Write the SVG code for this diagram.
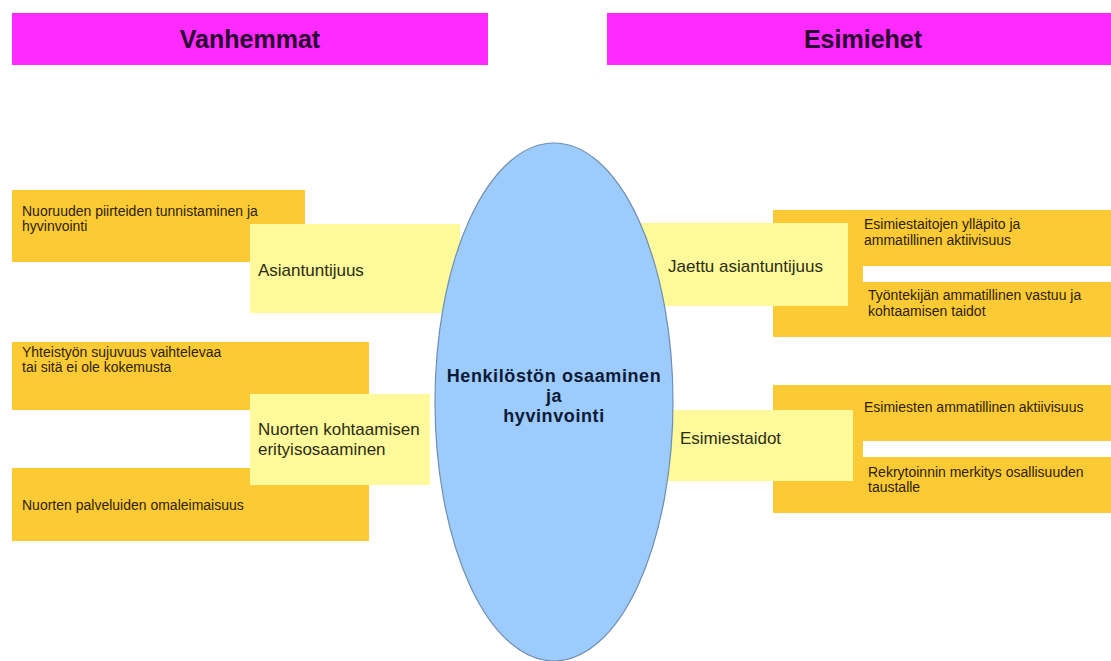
<svg xmlns="http://www.w3.org/2000/svg" width="1111" height="661" viewBox="0 0 1111 661">
  <style>
    .hdr { fill: #ff2aff; }
    .hdr-t { font-family: "Liberation Sans", Arial, sans-serif; font-weight: bold; font-size: 25px; fill: #2a0030; text-anchor: middle; }
    .item { fill: #fcca35; }
    .item-t { font-family: "Liberation Sans", Arial, sans-serif; font-size: 14px; fill: #2e2200; }
    .theme { fill: #fefa9b; }
    .theme-t { font-family: "Liberation Sans", Arial, sans-serif; font-size: 17px; fill: #2c2c10; }
    .gap { fill: #ffffff; }
    .core { fill: #9dcbfb; stroke: #6f8fb0; stroke-width: 1.2; }
    .core-t { font-family: "Liberation Sans", Arial, sans-serif; font-weight: bold; font-size: 18px; letter-spacing: 0.6px; fill: #0c1a38; text-anchor: middle; }
  </style>

  <rect width="1111" height="661" fill="#ffffff"/>

  <!-- Column headers -->
  <g id="header-vanhemmat">
    <rect class="hdr" x="12" y="13" width="476" height="52"/>
    <text class="hdr-t" x="250" y="48">Vanhemmat</text>
  </g>
  <g id="header-esimiehet">
    <rect class="hdr" x="607" y="13" width="504" height="52"/>
    <text class="hdr-t" x="863" y="48">Esimiehet</text>
  </g>

  <!-- Left side: detail items -->
  <g id="item-nuoruuden">
    <rect class="item" x="12" y="190" width="293" height="72"/>
    <text class="item-t" x="22" y="216">Nuoruuden piirteiden tunnistaminen ja</text>
    <text class="item-t" x="22" y="231">hyvinvointi</text>
  </g>
  <g id="item-yhteistyo">
    <rect class="item" x="12" y="342" width="357" height="68"/>
    <text class="item-t" x="22" y="357">Yhteistyön sujuvuus vaihtelevaa</text>
    <text class="item-t" x="22" y="372">tai sitä ei ole kokemusta</text>
  </g>
  <g id="item-palvelut">
    <rect class="item" x="12" y="468" width="357" height="73"/>
    <text class="item-t" x="22" y="510">Nuorten palveluiden omaleimaisuus</text>
  </g>

  <!-- Left side: themes -->
  <g id="theme-asiantuntijuus">
    <rect class="theme" x="250" y="224" width="210" height="89"/>
    <text class="theme-t" x="258" y="276">Asiantuntijuus</text>
  </g>
  <g id="theme-kohtaaminen">
    <rect class="theme" x="250" y="394" width="180" height="91"/>
    <text class="theme-t" x="258" y="435">Nuorten kohtaamisen</text>
    <text class="theme-t" x="258" y="455">erityisosaaminen</text>
  </g>

  <!-- Right side: detail items -->
  <g id="items-jaettu">
    <rect class="item" x="773" y="210" width="338" height="127"/>
    <rect class="gap" x="863" y="266" width="248" height="16"/>
    <text class="item-t" x="864" y="229">Esimiestaitojen ylläpito ja</text>
    <text class="item-t" x="864" y="245">ammatillinen aktiivisuus</text>
    <text class="item-t" x="868" y="300">Työntekijän ammatillinen vastuu ja</text>
    <text class="item-t" x="868" y="316">kohtaamisen taidot</text>
  </g>
  <g id="items-esimiestaidot">
    <rect class="item" x="773" y="385" width="338" height="128"/>
    <rect class="gap" x="863" y="441" width="248" height="16"/>
    <text class="item-t" x="864" y="412">Esimiesten ammatillinen aktiivisuus</text>
    <text class="item-t" x="868" y="477">Rekrytoinnin merkitys osallisuuden</text>
    <text class="item-t" x="868" y="492">taustalle</text>
  </g>

  <!-- Right side: themes -->
  <g id="theme-jaettu">
    <rect class="theme" x="640" y="223" width="208" height="83"/>
    <text class="theme-t" x="668" y="272">Jaettu asiantuntijuus</text>
  </g>
  <g id="theme-esimiestaidot">
    <rect class="theme" x="660" y="410" width="193" height="71"/>
    <text class="theme-t" x="680" y="444">Esimiestaidot</text>
  </g>

  <!-- Central topic -->
  <g id="core">
    <ellipse class="core" cx="554" cy="402" rx="119" ry="259"/>
    <text class="core-t" x="554" y="382">Henkilöstön osaaminen</text>
    <text class="core-t" x="554" y="402">ja</text>
    <text class="core-t" x="554" y="422">hyvinvointi</text>
  </g>
</svg>
